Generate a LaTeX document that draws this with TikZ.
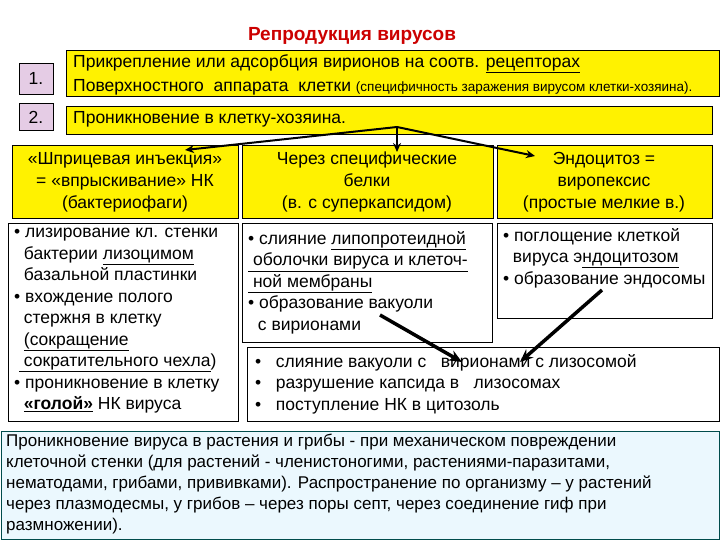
\documentclass[tikz,border=0pt]{standalone}
\usepackage{fontspec}
\setmainfont{Liberation Sans}
\usetikzlibrary{arrows.meta}
\begin{document}
\begin{tikzpicture}[x=1pt,y=-1pt,
 ybox/.style={draw=black,fill=yellow,line width=0.8pt},
 wbox/.style={draw=black,fill=white,line width=0.8pt},
 pbox/.style={draw=black,fill=violet!20,line width=0.8pt},
 txt/.style={font=\fontsize{17.5}{21.5}\selectfont,align=left,anchor=north west,inner sep=0},
 ctxt/.style={font=\fontsize{17.5}{22}\selectfont,align=center,inner sep=0},
 arr/.style={-{Stealth[length=9pt,width=8pt]},line width=2pt},
 barr/.style={-{Stealth[length=13pt,width=11pt]},line width=3.5pt}]
\useasboundingbox (0,0) rectangle (720,540);
\fill[white] (0,0) rectangle (720,540);
\node[font=\bfseries\fontsize{19}{22}\selectfont,text=red!80!black] (title) at (352,36) {Репродукция вирусов};
\draw[pbox] (19,63) rectangle (53,94); \node[ctxt] (n1) at (36,78) {1.};
\draw[pbox] (19,103) rectangle (53,130); \node[ctxt] (n2) at (36,117) {2.};
\draw[ybox] (66,50) rectangle (719,96);
\node[txt,font=\fontsize{17.5}{24}\selectfont] (t1) at (73,54) {Прикрепление или адсорбция вирионов на соотв. \underline{рецепторах}\\Поверхностного\ \ аппарата\ \ клетки {\fontsize{13.5}{14}\selectfont(специфичность заражения вирусом клетки-хозяина).}};
\draw[ybox] (66,106) rectangle (712,134);
\node[txt] (t2) at (73,111) {Проникновение в клетку-хозяина.};
\draw[ybox] (12,145) rectangle (238,218);
\draw[ybox] (242,145) rectangle (493,218);
\draw[ybox] (497,145) rectangle (712,218);
\node[ctxt] (a) at (125,182) {«Шприцевая инъекция»\\= «впрыскивание» НК\\(бактериофаги)};
\node[ctxt] (b) at (367,182) {Через специфические\\белки\\(в. с суперкапсидом)};
\node[ctxt] (c) at (604,182) {Эндоцитоз =\\виропексис\\(простые мелкие в.)};
\coordinate (s) at (397,127);
\draw[arr] (s) -- (185,150);
\draw[arr] (s) -- (397,152);
\draw[arr] (s) -- (535,156);
\draw[wbox] (8,223) rectangle (238,421);
\draw[wbox] (242,223) rectangle (492,342);
\draw[wbox] (497,223) rectangle (712,318);
\draw[wbox] (247,347) rectangle (719,421);
\node[txt] (la) at (14,228) {• лизирование кл. стенки\\\ \ бактерии \underline{лизоцимом}\\\ \ базальной пластинки\\• вхождение полого\\\ \ стержня в клетку\\\ \ \underline{(сокращение}\\\ \underline{\ сократительного чехла})\\• проникновение в клетку\\\ \ \underline{\textbf{«голой»}} НК вируса};
\node[txt] (lb) at (248,231) {• слияние \underline{липопротеидной}\\\underline{\ оболочки вируса и клеточ-}\\\underline{\ ной мембраны}\\• образование вакуоли\\\ \ с вирионами};
\node[txt] (lc) at (503,228) {• поглощение клеткой\\\ \ вируса э\underline{ндоцитозом}\\• образование эндосомы};
\node[txt] (ld) at (255,354) {•\ \ \ слияние вакуоли с\ \ \ вирионами с лизосомой\\•\ \ \ разрушение капсида в\ \ \ лизосомах\\•\ \ \ поступление НК в цитозоль};
\draw[barr] (380,315) -- (462,362);
\draw[barr] (602,290) -- (520,362);
\draw[draw=teal!60!black,fill=cyan!8,line width=1pt] (1,431) rectangle (719,539);
\node[txt,font=\fontsize{17}{21}\selectfont] (bt) at (6,434) {Проникновение вируса в растения и грибы - при механическом повреждении\\клеточной стенки (для растений - членистоногими, растениями-паразитами,\\нематодами, грибами, прививками). Распространение по организму – у растений\\через плазмодесмы, у грибов – через поры септ, через соединение гиф при\\размножении).};
\end{tikzpicture}
\end{document}
